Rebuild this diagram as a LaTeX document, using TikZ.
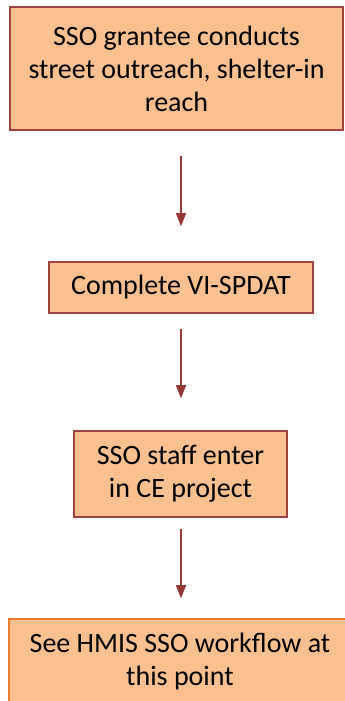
\documentclass[tikz,border=0pt]{standalone}
\usepackage{fontspec}
\setmainfont{Carlito}
\usepackage{tikz}
\usetikzlibrary{arrows.meta,positioning}
\definecolor{boxfill}{HTML}{FAC090}
\definecolor{boxline}{HTML}{9E4141}
\definecolor{lastline}{HTML}{ED7D31}
\definecolor{arrowred}{HTML}{953735}
\tikzset{
  stepbox/.style={draw=boxline, line width=1.6pt, fill=boxfill, align=center,
    inner sep=0pt, font=\fontsize{28}{33}\selectfont},
  flow/.style={draw=arrowred, line width=1.4pt, -{Triangle[width=10pt,length=13pt]}}
}

\begin{document}
\begin{tikzpicture}[x=1pt, y=-1pt]
    \useasboundingbox (0, 0) rectangle (345, 701);
    \clip (0, 0) rectangle (345, 701);

    \node[stepbox, minimum width=333pt, minimum height=123pt] (outreach) at (176.5, 68.5)
      {SSO grantee conducts\\ street outreach, shelter-in\\ reach};
    \node[stepbox, minimum width=264pt, minimum height=51pt] (vispdat) at (181, 287.5)
      {Complete VI-SPDAT};
    \node[stepbox, minimum width=213pt, minimum height=86pt] (staff) at (180.5, 474)
      {SSO staff enter\\ in CE project};
    \node[stepbox, draw=lastline, minimum width=342pt, minimum height=85pt] (hmis) at (180, 661.5)
      {See HMIS SSO workflow at\\ this point};

    \draw[flow, shorten <=25pt, shorten >=35pt] (vispdat.north |- outreach.south) -- (vispdat.north);
    \draw[flow, shorten <=15pt, shorten >=32pt] (vispdat.south) -- (vispdat.south |- staff.north);
    \draw[flow, shorten <=11pt, shorten >=20pt] (vispdat.south |- staff.south) -- (vispdat.south |- hmis.north);
\end{tikzpicture}
\end{document}
